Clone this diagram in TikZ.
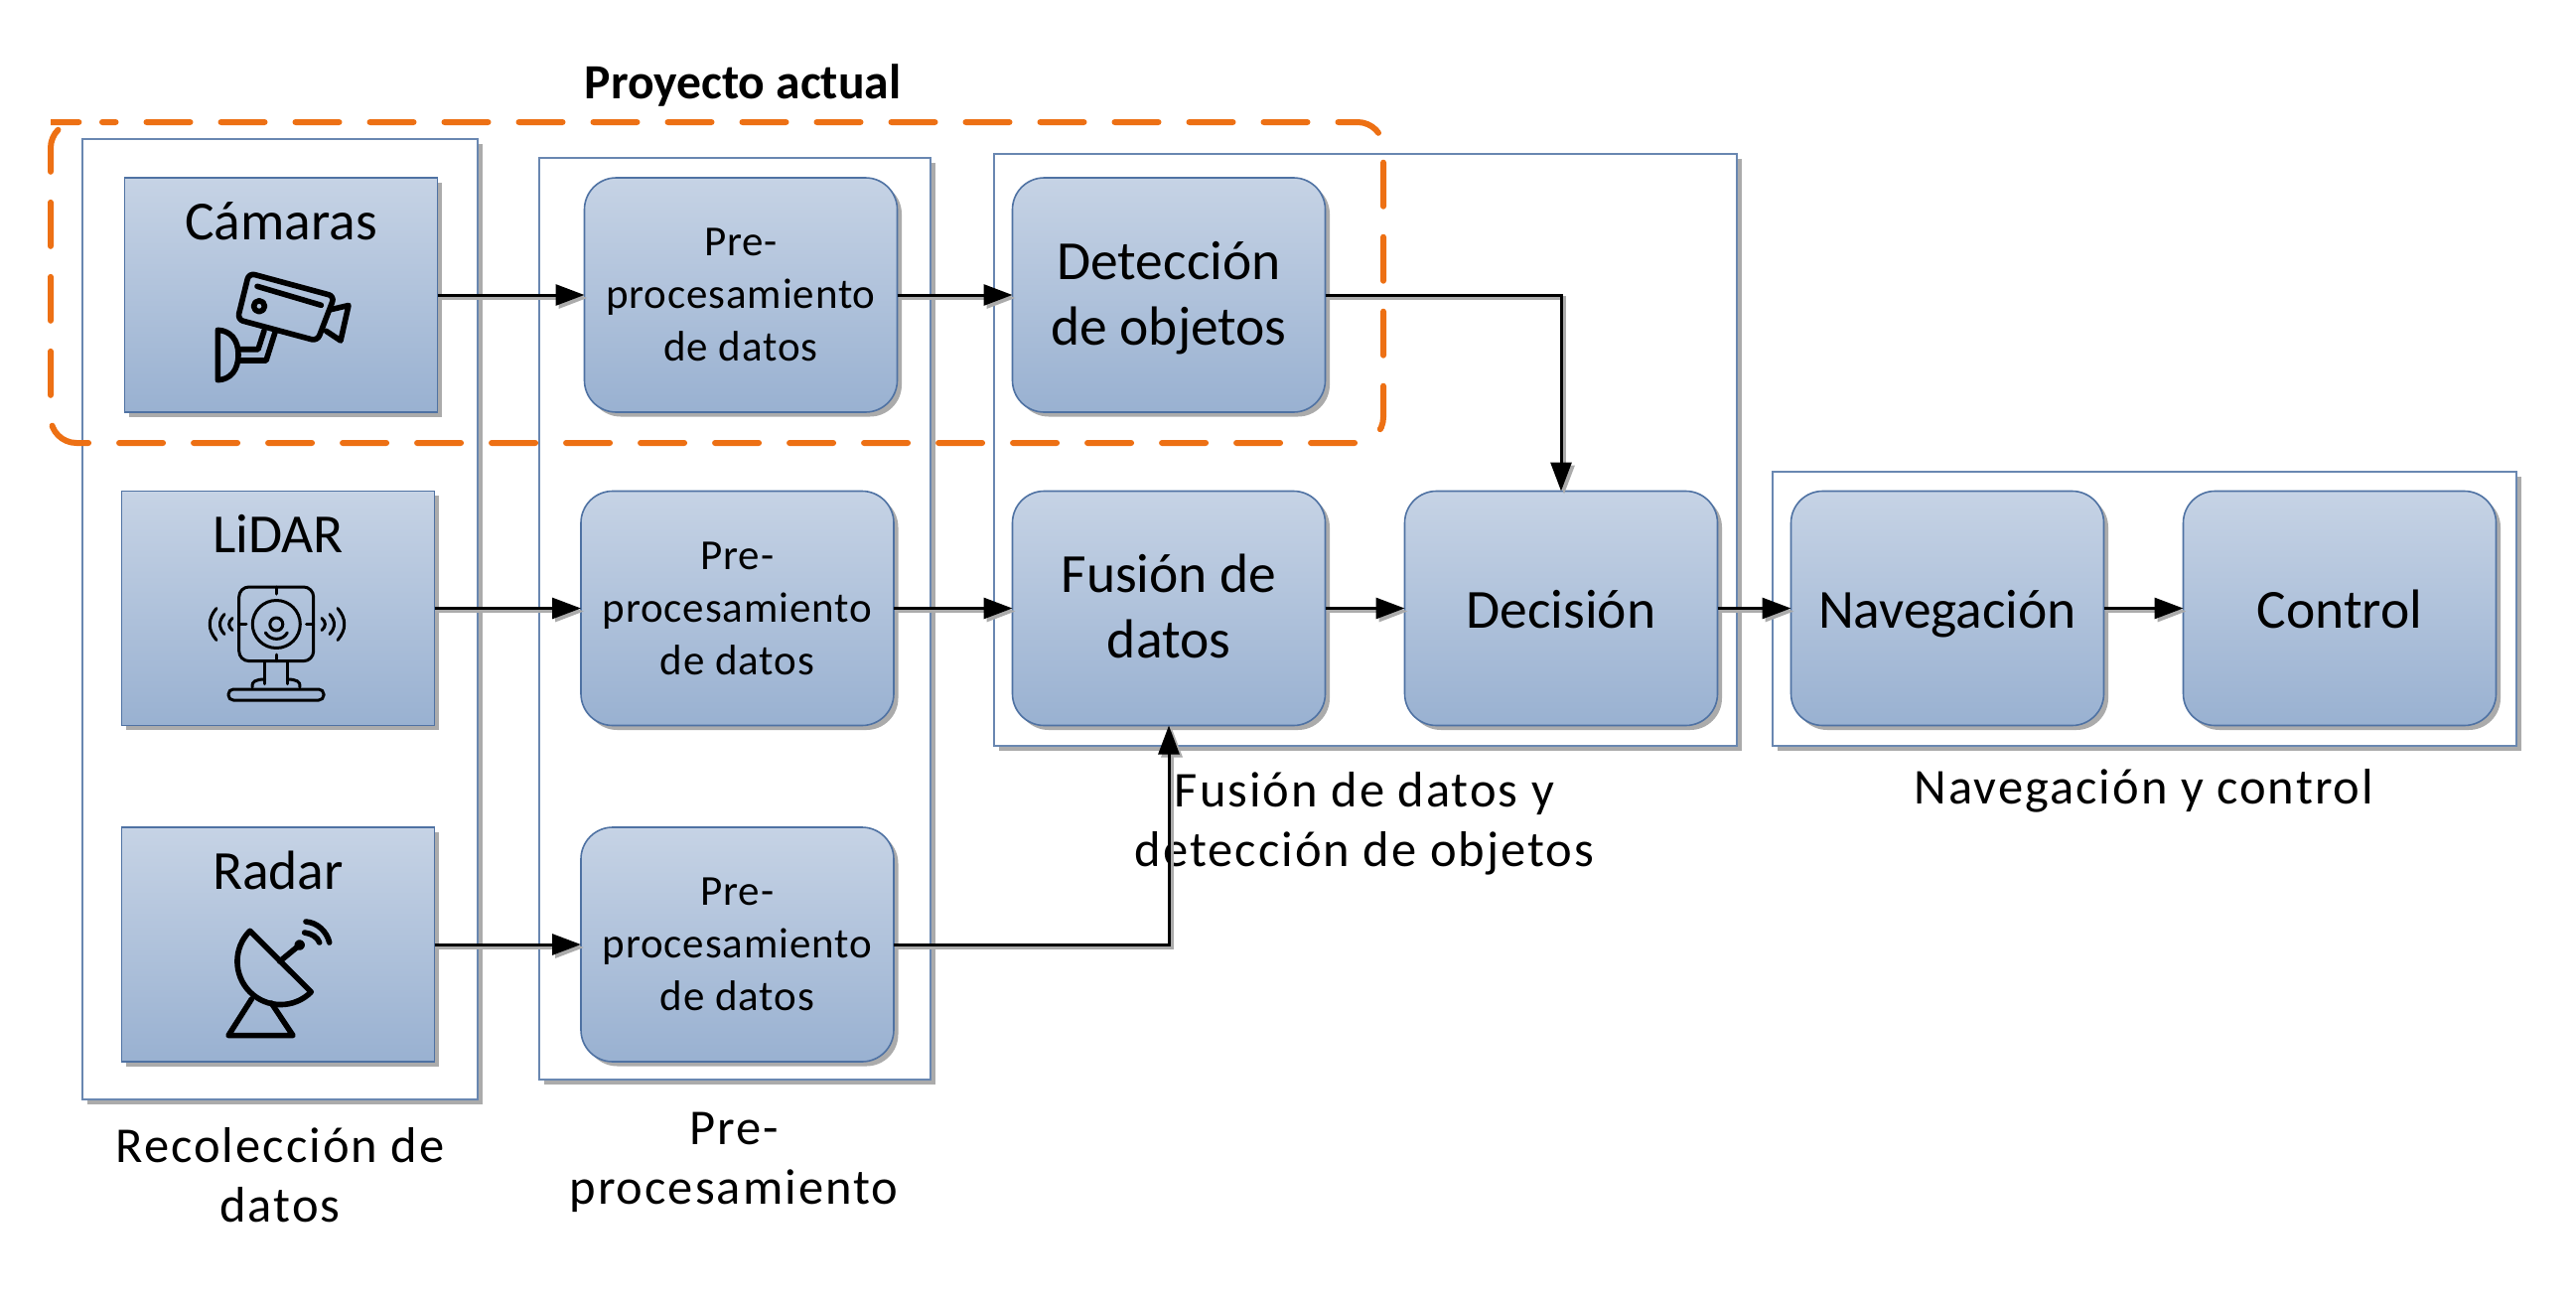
\documentclass[tikz,border=0pt]{standalone}
\usepackage{fontspec}
\setmainfont{Carlito}
\newfontfamily\spaced[LetterSpace=4]{Carlito}
\newfontfamily\prespaced[LetterSpace=2]{Carlito}
\usetikzlibrary{shadows,arrows.meta}
\definecolor{gradtop}{HTML}{C6D3E5}
\definecolor{gradbot}{HTML}{99B1D1}
\definecolor{edgeblue}{HTML}{4F72A3}
\definecolor{shadegray}{HTML}{ABABAB}
\definecolor{frameorange}{HTML}{ED7014}
\pgfdeclareverticalshading{boxgrad}{100bp}{color(0bp)=(gradbot); color(25bp)=(gradbot); color(75bp)=(gradtop); color(100bp)=(gradtop)}
\newcommand{\twolines}[2]{\rule{0pt}{50pt}#1\\#2\rule[-16pt]{0pt}{0pt}}
\tikzset{
  x=1pt,y=-1pt,
  panel/.style={draw=edgeblue!85,line width=1.6pt,fill=white,inner sep=0pt,outer sep=0pt,
    drop shadow={shadow xshift=4.5pt,shadow yshift=-4.5pt,opacity=1,fill=shadegray}},
  sharpbox/.style={draw=edgeblue,line width=1.6pt,shading=boxgrad,inner sep=0pt,outer sep=0pt,
    minimum width=315pt,minimum height=236pt,
    drop shadow={shadow xshift=4.5pt,shadow yshift=-4.5pt,opacity=1,fill=shadegray}},
  roundbox/.style={sharpbox,rounded corners=32pt,align=center},
  boxfont/.style={font=\fontsize{55.5}{65}\selectfont,execute at begin node=\rule{0pt}{59.5pt},execute at end node=\strut},
  twofont/.style={font=\fontsize{55.5}{66}\selectfont},
  labelfont/.style={font=\fontsize{55.5}{66.5}\selectfont},
  prefont/.style={font=\prespaced\fontsize{43}{53}\selectfont},
  capfont/.style={font=\spaced\fontsize{50.5}{60}\selectfont,align=center},
  link/.style={line width=3pt,-{Triangle[length=29pt,width=21pt]},
    preaction={draw=shadegray,line width=3.4pt,transform canvas={shift={(3pt,-3pt)}}}},
  icon/.style={line width=5.6pt,line join=round,line cap=round},
  thinicon/.style={line width=3pt,line join=round,line cap=round},
}
\begin{document}
\begin{tikzpicture}
\useasboundingbox (0,0) rectangle (2594,1314);
% panels
\node[panel,minimum width=398pt,minimum height=967pt] (p1) at (282,623.5) {};
\node[panel,minimum width=394pt,minimum height=928pt] (p2) at (740,623) {};
\node[panel,minimum width=748pt,minimum height=596pt] (p3) at (1375,453) {};
\node[panel,minimum width=749pt,minimum height=276pt] (p4) at (2159.5,613) {};
% boxes
\node[sharpbox] (cam) at (283,297) {};
\node[sharpbox] (lidar) at (280,612.5) {};
\node[sharpbox] (radar) at (280,951) {};
\node[labelfont] (camtxt) at (283,223) {Cámaras};
\node[labelfont] (lidartxt) at (280,537) {LiDAR};
\node[labelfont] (radartxt) at (280,876) {Radar};
\node[roundbox,prefont] (pre1) at (746,297) {Pre-\\procesamiento\\de datos};
\node[roundbox,prefont] (pre2) at (742.5,612.5) {Pre-\\procesamiento\\de datos};
\node[roundbox,prefont] (pre3) at (742.5,951) {Pre-\\procesamiento\\de datos};
\node[roundbox,twofont] (det) at (1177,297) {\twolines{Detección}{de objetos}};
\node[roundbox,twofont] (fus) at (1177,612.5) {\twolines{Fusión de}{datos}};
\node[roundbox,boxfont] (dec) at (1572,612.5) {Decisión};
\node[roundbox,boxfont] (nav) at (1961,612.5) {Navegación};
\node[roundbox,boxfont] (ctl) at (2356,612.5) {Control};
% captions
\node[capfont] (cap1) at (282,1183) {Recolección de\\datos};
\node[capfont] (cap2) at (739,1170) {Pre-\\procesamiento};
\node[capfont] (cap3) at (1374,829) {Fusión de datos y\\detección de objetos};
\node[capfont] (cap4) at (2159,796) {Navegación y control};
\node[font=\bfseries\fontsize{49.6}{60}\selectfont] (title) at (748,86) {Proyecto actual};
% camera icon
\draw[icon,rounded corners=6pt] (250.7,275) -- (336.8,298.3) -- (319.6,343.3) -- (239.2,321.7) -- cycle;
\draw[icon] (333,311.7) -- (351,307.5) -- (343,343) -- (328.4,333.3);
\draw[icon] (261,308.3) circle[radius=5.5pt];
\draw[icon] (259,288.3) -- (323.4,307.3);
\draw[icon] (219.3,332.3) .. controls (232,333) and (240,342) .. (240,357) .. controls (240,373) and (232,382) .. (219.3,382.7) -- cycle;
\draw[icon] (277.5,333) -- (268,363) -- (240,363);
\draw[icon] (266,333) -- (260,351.7) -- (240,351.7);
% lidar icon
\draw[thinicon,rounded corners=10pt] (240.7,591) rectangle (315.7,665.6);
\draw[thinicon] (278.3,628.5) circle[radius=24pt];
\draw[thinicon] (278.3,628.5) circle[radius=6.5pt];
\draw[thinicon] (267.3,637) .. controls (272,645.5) and (285,645.5) .. (289.3,637);
\draw[thinicon] (278.3,591) -- (278.3,598);
\draw[thinicon] (278.3,659) -- (278.3,665.6);
\draw[thinicon] (240.7,628.5) -- (248,628.5);
\draw[thinicon] (308.5,628.5) -- (315.7,628.5);
\draw[thinicon] (266.7,665.6) -- (266.7,688.6);
\draw[thinicon] (289.3,665.6) -- (289.3,688.6);
\draw[thinicon] (254,692) .. controls (253,686) and (258,684) .. (266.7,684);
\draw[thinicon] (302,692) .. controls (303,686) and (298,684) .. (289.3,684);
\draw[thinicon,rounded corners=5pt] (230,694) rectangle (326,705);
\draw[thinicon] (218,612.5) .. controls (209,623) and (209,634) .. (218,644.5);
\draw[thinicon] (226,618.5) .. controls (220,625) and (220,632) .. (226,638.5);
\draw[thinicon] (234,622.5) .. controls (229.5,626) and (229.5,631) .. (234,634.5);
\draw[thinicon] (324,622.5) .. controls (328.5,626) and (328.5,631) .. (324,634.5);
\draw[thinicon] (332,618.5) .. controls (338,625) and (338,632) .. (332,638.5);
\draw[thinicon] (340,612.5) .. controls (349,623) and (349,634) .. (340,644.5);
% radar icon
\draw[icon] (251.7,937.3) .. controls (234.7,954.2) and (234.7,981.8) .. (251.7,998.8) .. controls (268.7,1015.8) and (296.3,1015.8) .. (313.3,998.8) -- cycle;
\draw[icon] (281.7,968) -- (301.7,951.5);
\draw[icon,fill=black] (301.7,951.5) circle[radius=2.5pt];
\draw[icon] (306.7,939) .. controls (314,940) and (320,944) .. (321.7,949);
\draw[icon] (308,928) .. controls (320,929) and (329,938) .. (331.7,949);
\draw[icon] (253.3,1006) -- (230,1042.6) -- (295,1042.6) -- (273.3,1010);
% connectors
\draw[link] (cam.east) -- (pre1.west);
\draw[link] (lidar.east) -- (pre2.west);
\draw[link] (radar.east) -- (pre3.west);
\draw[link] (pre1.east) -- (det.west);
\draw[link] (pre2.east) -- (fus.west);
\draw[link] (pre3.east) -| (fus.south);
\draw[link] (det.east) -| (dec.north);
\draw[link] (fus.east) -- (dec.west);
\draw[link] (dec.east) -- (nav.west);
\draw[link] (nav.east) -- (ctl.west);
% project frame
\draw[draw=frameorange,line width=6pt,line cap=round,dash pattern=on 44pt off 31pt,dash phase=30.5pt,rounded corners=26pt]
  (77,123) -- (1393,123) -- (1393,446) -- (51,446) -- (51,123) -- cycle;
\end{tikzpicture}
\end{document}
